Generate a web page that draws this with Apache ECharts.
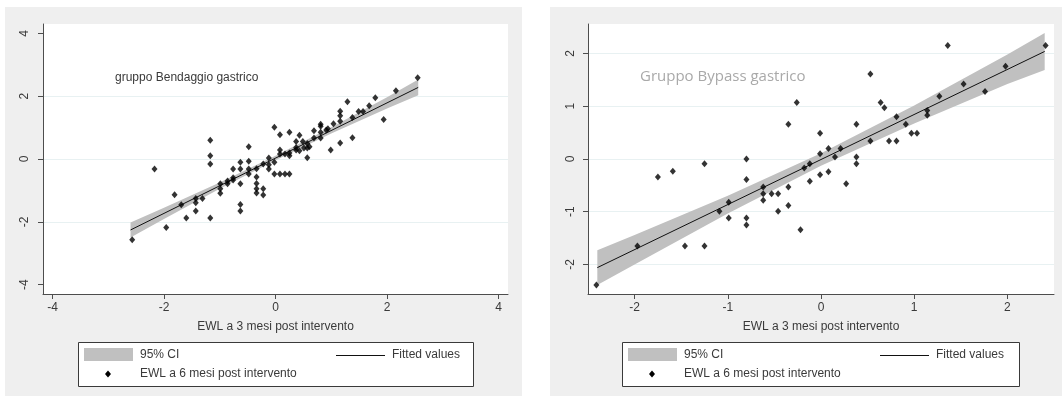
<!DOCTYPE html>
<html>
<head>
<meta charset="utf-8">
<script src="https://cdn.jsdelivr.net/npm/echarts@6/dist/echarts.min.js"></script>
<style>
html,body{margin:0;padding:0;background:#ffffff;}
#c{width:1062px;height:396px;}
</style>
</head>
<body>
<div id="c"></div>
<script>
// ---------- DATA ----------
// Left panel: gruppo Bendaggio gastrico
const bendX = [-2.57,-2.17,-1.96,-1.81,-1.69,-1.60,-1.43,-1.43,-1.43,-1.31,-1.17,-1.17,-1.17,-1.17,
  -0.99,-0.99,-0.99,-0.86,-0.86,-0.76,-0.76,-0.76,-0.63,-0.63,-0.63,-0.63,-0.63,-0.48,-0.48,-0.48,-0.48,
  -0.34,-0.34,-0.34,-0.34,-0.34,-0.22,-0.22,-0.22,-0.12,-0.12,-0.12,-0.02,-0.02,-0.02,
  0.08,0.08,0.08,0.08,0.17,0.17,0.25,0.25,0.25,0.25,0.37,0.37,0.37,0.43,0.43,0.49,0.51,0.57,0.57,0.57,0.61,
  0.69,0.69,0.81,0.81,0.81,0.81,0.91,0.94,0.99,1.04,1.16,1.16,1.16,1.16,1.29,1.38,1.38,1.49,1.57,1.68,1.79,1.94,2.16,2.55];
const bendY = [-2.57,-0.32,-2.18,-1.14,-1.46,-1.88,-1.26,-1.39,-1.66,-1.26,0.60,0.10,-0.16,-1.88,
  -0.79,-0.95,-1.09,-0.79,-0.70,-0.32,-0.60,-0.67,-0.10,-0.32,-0.79,-1.45,-1.66,0.39,-0.07,-0.32,-0.48,
  -0.31,-0.57,-0.78,-0.95,-1.08,-0.16,-0.95,-1.15,0.03,-0.18,-0.32,1.01,-0.10,-0.48,
  0.77,0.29,0.16,-0.48,0.16,-0.48,0.85,0.19,0.10,-0.48,0.56,0.37,0.29,0.76,0.26,0.56,0.35,0.49,0.35,0.04,0.39,
  0.90,0.67,1.11,1.04,0.85,0.67,0.92,0.96,0.29,1.12,1.52,1.38,1.20,0.51,1.82,1.32,0.68,1.51,1.51,1.70,1.95,1.26,2.17,2.59];
const bendFitX = [-2.60, 2.56];
const bendFitY = [-2.26, 2.28];
const bendBandX = [-2.60,-2.00,-1.00,0.00,1.00,2.00,2.56];
const bendBandLo = [-2.50,-1.91,-0.95,-0.04,0.81,1.61,2.03];
const bendBandHi = [-2.02,-1.55,-0.75,0.10,1.01,1.97,2.53];
const bendTicks = [-4,-2,0,2,4];
const bendGrid = [-2,0,2];

// Right panel: Gruppo Bypass gastrico
const bypX = [-2.41,-1.97,-1.75,-1.59,-1.46,-1.25,-1.25,-1.09,-0.99,-0.99,-0.80,-0.80,-0.80,-0.80,
  -0.62,-0.62,-0.62,-0.53,-0.46,-0.46,-0.35,-0.35,-0.35,-0.26,-0.22,-0.18,-0.12,-0.12,
  -0.01,-0.01,-0.01,0.08,0.08,0.15,0.21,0.27,0.38,0.38,0.38,0.53,0.53,0.64,0.68,0.73,0.81,0.81,
  0.91,0.97,1.03,1.14,1.14,1.27,1.36,1.53,1.76,1.98,2.41];
const bypY = [-2.39,-1.65,-0.34,-0.23,-1.65,-0.09,-1.65,-0.99,-0.82,-1.12,0.00,-0.39,-1.12,-1.25,
  -0.53,-0.66,-0.78,-0.66,-0.66,-0.99,0.66,-0.53,-0.88,1.07,-1.34,-0.17,-0.09,-0.42,
  0.49,0.10,-0.30,0.20,-0.24,0.04,0.20,-0.47,0.66,0.04,-0.09,1.61,0.34,1.07,0.97,0.34,0.80,0.34,
  0.66,0.49,0.49,0.92,0.83,1.19,2.15,1.42,1.28,1.76,2.15];
const bypFitX = [-2.40, 2.40];
const bypFitY = [-2.06, 2.04];
const bypBandX = [-2.40,-2.00,-1.00,0.00,1.00,2.00,2.40];
const bypBandLo = [-2.39,-2.00,-1.035,-0.13,0.675,1.42,1.69];
const bypBandHi = [-1.73,-1.44,-0.695,0.11,1.015,1.98,2.39];
const bypTicks = [-2,-1,0,1,2];
const bypGrid = [-2,-1,0,1,2];

const xTitle = 'EWL a 3 mesi post intervento';
const legCI = '95% CI';
const legFit = 'Fitted values';
const legPts = 'EWL a 6 mesi post intervento';
const noteLeft = 'gruppo Bendaggio gastrico';
const noteRight = 'Gruppo Bypass gastrico';

// ---------- STYLE ----------
const FONT = '"Liberation Sans", Arial, sans-serif';
const TXT = '#3a3a3a';
const AXC = '#4d4d4d';
const BAND = '#c0c0c0';
const GRIDC = '#e8f1f2';
const PANEL = '#efefef';

function xAxisCfg(gi, min, max, ticks) {
  return {
    type: 'value', gridIndex: gi, min: min, max: max,
    name: xTitle, nameLocation: 'middle', nameGap: 27,
    nameTextStyle: {color: TXT, fontSize: 12, fontFamily: FONT},
    axisLine: {show: true, onZero: false, lineStyle: {color: AXC, width: 1}},
    axisTick: {show: true, customValues: ticks, length: 5, inside: false, lineStyle: {color: AXC, width: 1}},
    axisLabel: {show: true, customValues: ticks, margin: 8, color: TXT, fontSize: 12, fontFamily: FONT,
      formatter: v => String(v)},
    splitLine: {show: false}
  };
}
function yAxisCfg(gi, min, max, ticks, margin) {
  return {
    type: 'value', gridIndex: gi, min: min, max: max,
    axisLine: {show: true, onZero: false, lineStyle: {color: AXC, width: 1}},
    axisTick: {show: true, customValues: ticks, length: 5, inside: false, lineStyle: {color: AXC, width: 1}},
    axisLabel: {show: true, customValues: ticks, rotate: 90, margin: margin, color: TXT, fontSize: 12, fontFamily: FONT,
      formatter: v => String(v)},
    splitLine: {show: false}
  };
}
function zipXY(xs, ys) { return xs.map((x, i) => [x, ys[i]]); }

function bandSeries(gi, bx, lo, hi) {
  return {
    type: 'custom', xAxisIndex: gi, yAxisIndex: gi, silent: true, z: 1,
    data: [[bx[0], lo[0]]],
    renderItem: function (params, api) {
      const pts = [];
      for (let i = 0; i < bx.length; i++) pts.push(api.coord([bx[i], hi[i]]));
      for (let i = bx.length - 1; i >= 0; i--) pts.push(api.coord([bx[i], lo[i]]));
      return {type: 'polygon', shape: {points: pts}, style: {fill: BAND, stroke: null}};
    }
  };
}
function fitSeries(gi, fx, fy) {
  return {
    type: 'line', xAxisIndex: gi, yAxisIndex: gi, data: zipXY(fx, fy), symbol: 'none',
    lineStyle: {color: '#111', width: 1}, silent: true, z: 3, animation: false
  };
}
function pointSeries(gi, xs, ys, gridVals) {
  return {
    type: 'scatter', xAxisIndex: gi, yAxisIndex: gi, data: zipXY(xs, ys),
    symbol: 'diamond', symbolSize: [6, 7], itemStyle: {color: '#000'}, z: 4, silent: true,
    markLine: {
      silent: true, symbol: 'none', label: {show: false}, z: 0,
      lineStyle: {color: GRIDC, width: 1, type: 'solid'},
      data: gridVals.map(v => ({yAxis: v}))
    }
  };
}

function legendGroup(x0, y0, w) {
  return [
    {type: 'rect', shape: {x: x0 + 0.5, y: y0 + 0.5, width: w, height: 44},
      style: {fill: '#fff', stroke: '#3a3a3a', lineWidth: 1}, z: 10},
    {type: 'rect', shape: {x: x0 + 6, y: y0 + 6, width: 49, height: 13}, style: {fill: BAND}, z: 11},
    {type: 'text', x: x0 + 62, y: y0 + 13, style: {text: legCI, font: '12px ' + FONT, fill: TXT, verticalAlign: 'middle'}, z: 11},
    {type: 'line', shape: {x1: x0 + 258, y1: y0 + 13.5, x2: x0 + 307, y2: y0 + 13.5}, style: {stroke: '#111', lineWidth: 1}, z: 11},
    {type: 'text', x: x0 + 314, y: y0 + 13, style: {text: legFit, font: '12px ' + FONT, fill: TXT, verticalAlign: 'middle'}, z: 11},
    {type: 'polygon', shape: {points: [[x0 + 30, y0 + 28.5], [x0 + 33, y0 + 32], [x0 + 30, y0 + 35.5], [x0 + 27, y0 + 32]]}, style: {fill: '#000'}, z: 11},
    {type: 'text', x: x0 + 62, y: y0 + 32, style: {text: legPts, font: '12px ' + FONT, fill: TXT, verticalAlign: 'middle'}, z: 11}
  ];
}

const chart = echarts.init(document.getElementById('c'), null, {renderer: 'canvas'});
const option = {
  animation: false,
  backgroundColor: '#ffffff',
  grid: [
    {left: 43, top: 24, width: 465, height: 270, containLabel: false},
    {left: 588, top: 24, width: 466, height: 270, containLabel: false}
  ],
  xAxis: [xAxisCfg(0, -4.17, 4.17, bendTicks), xAxisCfg(1, -2.5, 2.5, bypTicks)],
  yAxis: [yAxisCfg(0, -4.3, 4.3, bendTicks, 12), yAxisCfg(1, -2.56, 2.56, bypTicks, 11)],
  graphic: {
    elements: [
      {type: 'rect', shape: {x: 5, y: 7, width: 517, height: 389}, style: {fill: PANEL}, z: -10, silent: true},
      {type: 'rect', shape: {x: 550, y: 7, width: 512, height: 389}, style: {fill: PANEL}, z: -10, silent: true},
      {type: 'rect', shape: {x: 43, y: 24, width: 465, height: 270}, style: {fill: '#fff'}, z: -9, silent: true},
      {type: 'rect', shape: {x: 588, y: 24, width: 466, height: 270}, style: {fill: '#fff'}, z: -9, silent: true},
      {type: 'text', x: 115, y: 78, style: {text: noteLeft, font: '12px ' + FONT, fill: TXT, verticalAlign: 'middle'}, z: 12},
      {type: 'text', x: 640, y: 77, style: {text: noteRight, font: '15px "Open Sans", sans-serif', fill: '#a9a9a9', verticalAlign: 'middle'}, z: 12}
    ].concat(legendGroup(78, 342, 395)).concat(legendGroup(622, 342, 397))
  },
  series: [
    bandSeries(0, bendBandX, bendBandLo, bendBandHi),
    fitSeries(0, bendFitX, bendFitY),
    pointSeries(0, bendX, bendY, bendGrid),
    bandSeries(1, bypBandX, bypBandLo, bypBandHi),
    fitSeries(1, bypFitX, bypFitY),
    pointSeries(1, bypX, bypY, bypGrid)
  ]
};
chart.setOption(option);
</script>
</body>
</html>
